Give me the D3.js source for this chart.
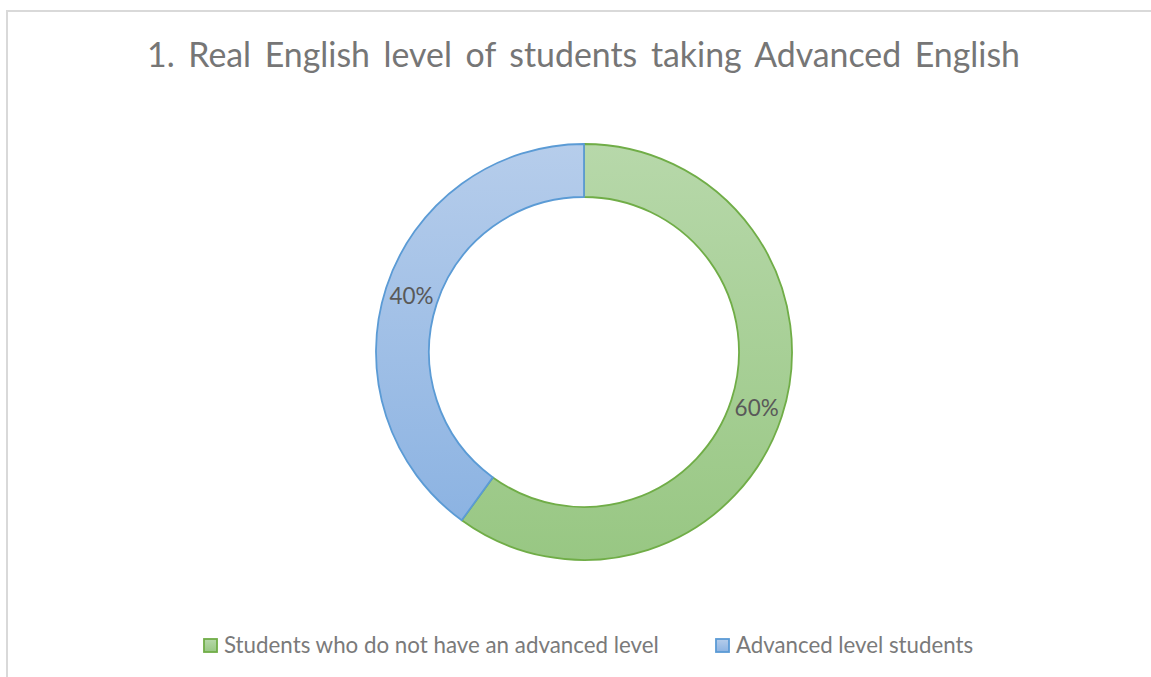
<!DOCTYPE html>
<html>
<head>
<meta charset="utf-8">
<script src="https://cdn.jsdelivr.net/npm/d3@7/dist/d3.min.js"></script>
<style>
  html, body { margin: 0; padding: 0; background: #ffffff; }
  svg { display: block; }
</style>
</head>
<body>
<svg id="chart" width="1151" height="677"></svg>
<script>
const titleText = "1. Real English level of students taking Advanced English";
const categories = ["Students who do not have an advanced level", "Advanced level students"];
const values = [60, 40];
const labels = ["60%", "40%"];
const fillTop = ["#b7d8aa", "#b6cdeb"];
const fillBottom = ["#98c783", "#8cb3e2"];
const strokes = ["#70ad47", "#5b9bd5"];

const W = 1151, H = 677;
const svg = d3.select("#chart");
const font = "Lato, 'Open Sans', sans-serif";

function fitFont(sel, target, size) {
  sel.attr("font-size", size);
  for (let k = 0; k < 3; k++) {
    const len = sel.node().getComputedTextLength();
    size = size * target / len;
    sel.attr("font-size", size);
  }
}

// frame border
svg.append("rect").attr("x", 7).attr("y", 11).attr("width", W + 20).attr("height", H + 20)
  .attr("fill", "none").attr("stroke", "#d9d9d9").attr("stroke-width", 2);

// title
const title = svg.append("text")
  .attr("x", 147).attr("y", 67)
  .attr("font-family", font)
  .attr("fill", "#767676")
  .attr("word-spacing", 5)
  .text(titleText);
fitFont(title, 873, 30);

// donut
const cx = 584, cy = 352, rOuter = 208, rInner = 155;
const pie = d3.pie().sort(null).value(d => d)(values);
const arc = d3.arc().innerRadius(rInner).outerRadius(rOuter);
const defs = svg.append("defs");
categories.forEach((c, i) => {
  const g = defs.append("linearGradient").attr("id", "grad" + i)
    .attr("x1", 0).attr("y1", 0).attr("x2", 0).attr("y2", 1);
  g.append("stop").attr("offset", "0%").attr("stop-color", fillTop[i]);
  g.append("stop").attr("offset", "100%").attr("stop-color", fillBottom[i]);
});
const gDonut = svg.append("g").attr("transform", `translate(${cx},${cy})`);
gDonut.selectAll("path").data(pie).join("path")
  .attr("d", arc)
  .attr("fill", (d, i) => `url(#grad${i})`)
  .attr("stroke", (d, i) => strokes[i])
  .attr("stroke-width", 1.8)
  .attr("stroke-linejoin", "round");

gDonut.selectAll("text.lbl").data(pie).join("text")
  .attr("class", "lbl")
  .attr("transform", d => `translate(${arc.centroid(d)})`)
  .attr("text-anchor", "middle").attr("dy", "0.35em")
  .attr("font-family", font)
  .attr("fill", "#595959")
  .text((d, i) => labels[i])
  .each(function () { fitFont(d3.select(this), 44, 20); });

// legend
const legendY = 645;
const legendX = [203, 715];
const legendW = [435, 237];
categories.forEach((c, i) => {
  svg.append("rect").attr("x", legendX[i] + 1).attr("y", legendY - 6)
    .attr("width", 13).attr("height", 13)
    .attr("fill", `url(#grad${i})`).attr("stroke", strokes[i]).attr("stroke-width", 1.8);
  const t = svg.append("text").attr("x", legendX[i] + 21).attr("y", legendY).attr("dy", "0.35em")
    .attr("font-family", font)
    .attr("fill", "#7a7a7a")
    .text(c);
  fitFont(t, legendW[i], 21);
});
</script>
</body>
</html>
